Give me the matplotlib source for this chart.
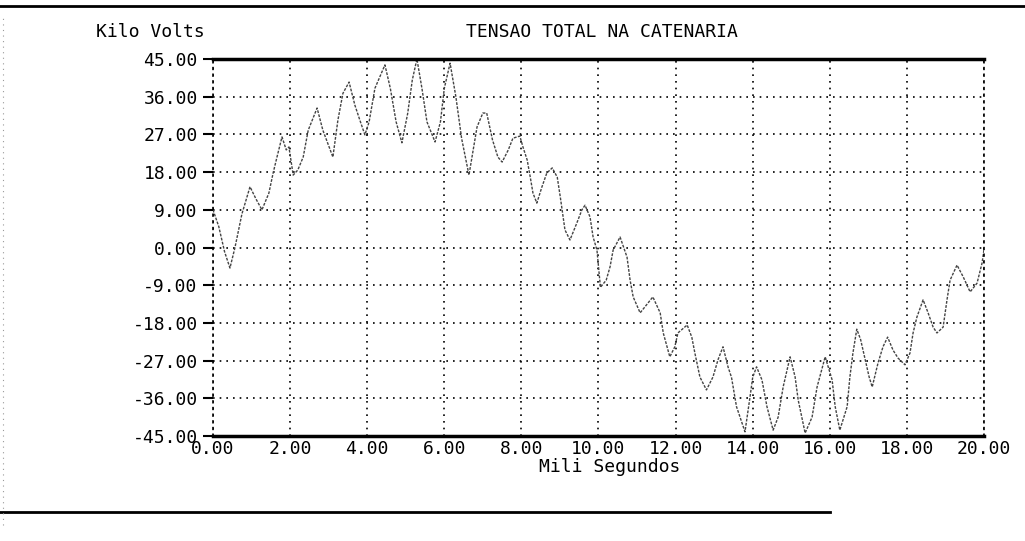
import matplotlib.pyplot as plt
from matplotlib.lines import Line2D

# values: time in ms, voltage in kV
t_ms = [0.00, 0.15, 0.30, 0.44, 0.57, 0.65, 0.75, 0.96, 1.12, 1.27, 1.45, 1.56,
        1.66, 1.79, 1.90, 1.97, 2.08, 2.20, 2.34, 2.47, 2.70, 2.85, 3.11, 3.24,
        3.37, 3.53, 3.68, 3.81, 3.94, 4.05, 4.20, 4.46, 4.60, 4.75, 4.90, 5.05,
        5.17, 5.29, 5.42, 5.55, 5.76, 5.90, 6.00, 6.15, 6.30, 6.45, 6.64, 6.75,
        6.85, 7.00, 7.10, 7.25, 7.39, 7.50, 7.66, 7.78, 7.96, 8.04, 8.15, 8.23,
        8.30, 8.40, 8.53, 8.66, 8.80, 8.93, 9.01, 9.13, 9.26, 9.44, 9.57, 9.65,
        9.78, 9.86, 9.96, 10.05, 10.20, 10.30, 10.38, 10.56, 10.74, 10.82, 10.90,
        11.08, 11.29, 11.41, 11.60, 11.68, 11.78, 11.85, 11.98, 12.06, 12.30,
        12.42, 12.50, 12.63, 12.80, 12.97, 13.10, 13.23, 13.36, 13.45, 13.58,
        13.80, 13.93, 14.00, 14.10, 14.24, 14.37, 14.53, 14.66, 14.79, 14.97,
        15.10, 15.18, 15.36, 15.54, 15.67, 15.88, 16.06, 16.14, 16.26, 16.45,
        16.52, 16.60, 16.70, 16.80, 16.92, 17.02, 17.10, 17.25, 17.38, 17.50,
        17.64, 17.77, 17.95, 18.08, 18.16, 18.26, 18.42, 18.55, 18.68, 18.78,
        18.94, 19.04, 19.12, 19.30, 19.46, 19.64, 19.82, 19.95, 20.00]
kilo_volts = [9.0, 5.0, -1.0, -4.9, 0.0, 3.5, 8.0, 14.5, 11.5, 9.0, 13.0, 17.8,
              21.6, 26.4, 23.3, 24.0, 17.3, 18.5, 21.6, 28.0, 33.3, 28.0, 21.6, 30.4,
              36.8, 39.5, 34.0, 30.4, 26.9, 30.0, 38.0, 43.6, 38.0, 30.0, 25.0, 32.0,
              40.0, 45.0, 38.0, 30.0, 25.2, 30.0, 38.0, 44.0, 36.0, 26.0, 17.3, 23.3,
              28.8, 32.1, 32.1, 25.7, 21.6, 20.4, 23.3, 26.1, 26.6, 24.0, 20.9, 16.8,
              13.0, 10.6, 14.4, 17.8, 19.0, 16.8, 12.0, 4.2, 1.8, 5.9, 9.0, 10.1,
              7.3, 2.5, -0.6, -9.5, -7.8, -4.6, -0.6, 2.5, -2.3, -7.8, -11.8,
              -15.6, -13.2, -11.8, -15.6, -20.4, -23.7, -26.1, -23.7, -20.4, -18.5,
              -21.4, -25.2, -30.9, -34.0, -30.9, -26.8, -23.7, -28.5, -31.0, -38.0,
              -44.0, -35.7, -31.0, -28.5, -31.6, -38.0, -43.6, -40.5, -33.3, -26.1,
              -30.9, -36.4, -44.3, -40.5, -33.3, -26.1, -31.6, -38.0, -43.6, -38.0,
              -31.0, -25.2, -19.5, -22.0, -26.8, -30.9, -33.3, -27.6, -23.7, -21.4,
              -24.5, -26.4, -28.0, -25.2, -20.4, -16.6, -12.5, -15.6, -19.0, -20.4,
              -19.0, -12.5, -7.8, -4.2, -7.0, -10.6, -8.5, -3.7, -0.5]

x_ticks = [0, 2, 4, 6, 8, 10, 12, 14, 16, 18, 20]
y_ticks = [-45, -36, -27, -18, -9, 0, 9, 18, 27, 36, 45]

mono = "DejaVu Sans Mono"

fig = plt.figure(figsize=(10.25, 5.41), dpi=100)
ax = fig.add_axes([0.2078, 0.1941, 0.7522, 0.6968])

ax.plot(t_ms, kilo_volts, color="#444444", linewidth=1.0, linestyle=(0, (2, 1)))

ax.set_xlim(0, 20)
ax.set_ylim(-45, 45)
ax.set_xticks(x_ticks)
ax.set_yticks(y_ticks)
ax.set_xticklabels([f"{v:.2f}" for v in x_ticks], family=mono, fontsize=13)
ax.set_yticklabels([f"{v:.2f}" for v in y_ticks], family=mono, fontsize=13)
ax.tick_params(axis="y", length=7, width=1.5, pad=4, direction="out")
ax.tick_params(axis="x", length=0, pad=3)

ax.grid(True, color="black", linestyle=(0, (1, 3)), linewidth=1.2)
ax.spines["top"].set_linewidth(2.5)
ax.spines["bottom"].set_linewidth(2.5)
for s in ("left", "right"):
    ax.spines[s].set_linestyle((0, (1, 3)))
    ax.spines[s].set_linewidth(1.2)

fig.text(96 / 1025, 1 - 32 / 541, "Kilo Volts", family=mono, fontsize=13,
         va="center", ha="left")
fig.text(466 / 1025, 1 - 32 / 541, "TENSAO TOTAL NA CATENARIA", family=mono,
         fontsize=13, va="center", ha="left")
fig.text(610 / 1025, 1 - 467 / 541, "Mili Segundos", family=mono, fontsize=13,
         va="center", ha="center")

# page edges from the scan
fig.add_artist(Line2D([0, 1], [1 - 6 / 541, 1 - 6 / 541], color="black", linewidth=2))
fig.add_artist(Line2D([0, 830 / 1025], [1 - 512 / 541, 1 - 512 / 541], color="black", linewidth=2))
fig.add_artist(Line2D([3 / 1025, 3 / 1025], [0.03, 0.97], color="#999999",
                      linewidth=0.8, linestyle=(0, (1, 4))))

plt.savefig("out.png", dpi=100)
